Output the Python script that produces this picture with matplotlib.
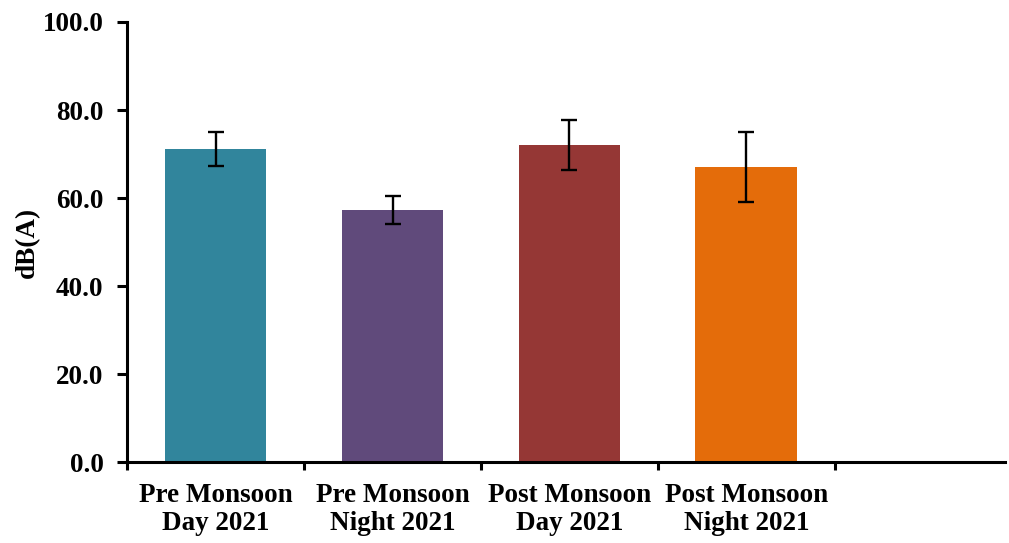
import matplotlib.pyplot as plt
import numpy as np

categories = ['Pre Monsoon\nDay 2021', 'Pre Monsoon\nNight 2021',
              'Post Monsoon\nDay 2021', 'Post Monsoon\nNight 2021']
levels = [71.1, 57.2, 72.0, 67.0]
errors = [3.8, 3.2, 5.7, 8.0]
colors = ['#31859C', '#604A7B', '#953735', '#E46C0A']

plt.rcParams['font.family'] = ['Liberation Serif', 'DejaVu Serif']
plt.rcParams['font.weight'] = 'bold'

fig = plt.figure(figsize=(10.09, 5.43), dpi=100)
ax = fig.add_axes([0.1259, 0.149, 0.870, 0.8105])

x = np.arange(len(categories))
ax.bar(x, levels, width=0.576, color=colors, zorder=2)
ax.errorbar(x, levels, yerr=errors, fmt='none', ecolor='black',
            elinewidth=1.7, capsize=6, capthick=1.7, zorder=3)

ax.set_xlim(-0.5, 4.46)
ax.set_ylim(0, 100)
ax.set_yticks(np.arange(0, 101, 20))
ax.set_yticklabels([f'{v:.1f}' for v in np.arange(0, 101, 20)])
ax.set_ylabel('dB(A)', fontsize=19.5, fontweight='bold')
ax.yaxis.set_label_coords(-0.099, 0.5)

# category labels sit between boundary ticks
ax.set_xticks(np.arange(-0.5, 4.0, 1.0))
ax.set_xticklabels([])
ax.set_xticks(x, minor=True)
ax.set_xticklabels(categories, minor=True, fontsize=19.5, fontweight='bold',
                   linespacing=1.15)
ax.tick_params(axis='x', which='minor', length=0, pad=15)
ax.tick_params(axis='x', which='major', direction='out', length=6, width=2.2)
ax.tick_params(axis='y', direction='out', length=7, width=2.2, labelsize=19.5, pad=10)

for side in ['top', 'right']:
    ax.spines[side].set_visible(False)
for side in ['left', 'bottom']:
    ax.spines[side].set_linewidth(2.2)

fig.savefig('out.png', dpi=100)
